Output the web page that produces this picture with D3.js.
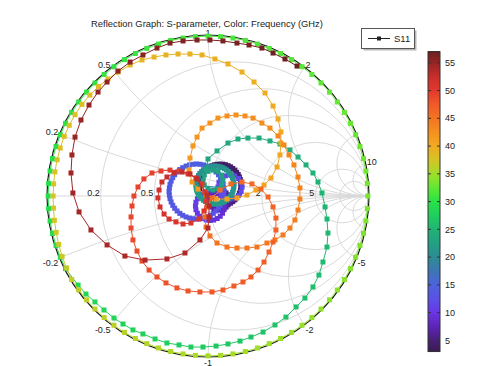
<!DOCTYPE html>
<html><head><meta charset="utf-8">
<script src="https://cdn.jsdelivr.net/npm/d3@7"></script>
<style>body{margin:0;background:#fff}svg{display:block}text{font-family:"Liberation Sans",Arial,sans-serif;fill:#222}</style>
</head><body><svg id="c" width="479" height="366"></svg>
<script>
// ---------- DATA: S11 [frequency GHz, Re, Im] ----------
const band03to05 = [[3.0,0.010,-0.045],[3.05,-0.004,-0.035],[3.1,-0.017,-0.024],[3.15,-0.028,-0.011],[3.2,-0.038,0.003],[3.25,-0.045,0.018],[3.3,-0.051,0.034],[3.35,-0.054,0.051],[3.4,-0.055,0.068],[3.45,-0.054,0.085],[3.5,-0.051,0.102],[3.55,-0.045,0.118],[3.6,-0.038,0.133],[3.65,-0.028,0.147],[3.7,-0.017,0.160],[3.75,-0.004,0.171],[3.8,0.010,0.181],[3.85,0.025,0.188],[3.9,0.041,0.194],[3.95,0.058,0.197],[4.0,0.075,0.198],[4.05,0.092,0.197],[4.1,0.109,0.194],[4.15,0.125,0.188],[4.2,0.140,0.181],[4.25,0.154,0.171],[4.3,0.167,0.160],[4.35,0.178,0.147],[4.4,0.188,0.133],[4.45,0.195,0.118],[4.5,0.201,0.102],[4.55,0.204,0.085],[4.6,0.205,0.068],[4.65,0.204,0.051],[4.7,0.201,0.034],[4.75,0.195,0.018],[4.8,0.188,0.003],[4.85,0.178,-0.011],[4.9,0.167,-0.024],[4.95,0.154,-0.035],[5.0,0.140,-0.045],[5.05,0.125,-0.052],[5.1,0.109,-0.058],[5.15,0.092,-0.061],[5.2,0.075,-0.062],[5.25,0.058,-0.061],[5.3,0.041,-0.058],[5.35,0.025,-0.052]];
const band05to07 = [[5.4,0.068,0.037],[5.5,0.084,0.035],[5.6,0.099,0.029],[5.7,0.112,0.019],[5.8,0.122,0.006],[5.9,0.128,-0.009],[6.0,0.130,-0.025],[6.1,0.128,-0.041],[6.2,0.122,-0.056],[6.3,0.112,-0.069],[6.4,0.099,-0.079],[6.5,0.084,-0.085],[6.6,0.068,-0.087],[6.7,0.052,-0.085],[6.8,0.037,-0.079],[6.9,0.024,-0.069],[7.0,0.014,-0.056],[7.1,0.008,-0.041],[7.2,0.006,-0.025],[7.3,0.008,-0.009],[7.4,0.014,0.006],[7.5,0.024,0.019],[7.6,0.037,0.029],[7.7,0.052,0.035]];
const band08to11 = [[7.8,0.012,0.028],[7.9,0.035,0.025],[8.1,0.057,0.016],[8.2,0.076,0.002],[8.4,0.090,-0.017],[8.5,0.099,-0.039],[8.7,0.102,-0.062],[8.8,0.099,-0.085],[9.0,0.090,-0.107],[9.1,0.076,-0.126],[9.3,0.057,-0.140],[9.4,0.035,-0.149],[9.6,0.012,-0.152],[9.7,-0.011,-0.149],[9.9,-0.033,-0.140],[10.0,-0.052,-0.126],[10.2,-0.066,-0.107],[10.3,-0.075,-0.085],[10.5,-0.078,-0.062],[10.6,-0.075,-0.039],[10.8,-0.066,-0.017],[10.9,-0.052,0.002],[11.1,-0.033,0.016],[11.2,-0.011,0.025]];
const band11to12 = [[11.3,0.062,0.056],[11.35,0.068,0.085],[11.4,0.084,0.109],[11.45,0.108,0.125],[11.5,0.137,0.131],[11.55,0.166,0.125],[11.6,0.190,0.109],[11.65,0.206,0.085],[11.7,0.212,0.056],[11.75,0.206,0.027],[11.8,0.190,0.003],[11.85,0.166,-0.013],[11.9,0.137,-0.019],[11.95,0.108,-0.013],[12.0,0.084,0.003],[12.05,0.068,0.027]];
const band12to15 = [[12.10,0.100,0.028],[12.17,0.098,0.006],[12.24,0.094,-0.016],[12.31,0.087,-0.037],[12.38,0.077,-0.058],[12.45,0.065,-0.076],[12.52,0.050,-0.093],[12.59,0.033,-0.108],[12.66,0.015,-0.120],[12.73,-0.006,-0.130],[12.80,-0.027,-0.137],[12.87,-0.049,-0.141],[12.94,-0.071,-0.143],[13.01,-0.093,-0.141],[13.08,-0.115,-0.137],[13.15,-0.136,-0.130],[13.22,-0.157,-0.120],[13.29,-0.175,-0.108],[13.36,-0.192,-0.093],[13.43,-0.207,-0.076],[13.50,-0.219,-0.058],[13.57,-0.229,-0.037],[13.64,-0.236,-0.016],[13.71,-0.240,0.006],[13.78,-0.242,0.028],[13.85,-0.240,0.050],[13.92,-0.236,0.072],[13.99,-0.229,0.093],[14.06,-0.219,0.114],[14.13,-0.207,0.132],[14.20,-0.192,0.149],[14.27,-0.175,0.164],[14.34,-0.157,0.176],[14.41,-0.136,0.186],[14.48,-0.115,0.193],[14.55,-0.093,0.197],[14.62,-0.071,0.199],[14.69,-0.049,0.197],[14.76,-0.027,0.193],[14.83,-0.006,0.186],[14.90,0.015,0.176],[14.97,0.033,0.164],[15.04,0.050,0.149],[15.11,0.065,0.132],[15.18,0.077,0.114],[15.25,0.087,0.093],[15.32,0.094,0.072],[15.39,0.098,0.050]];
const band20to22 = [[20.00,-0.075,0.068],[20.05,-0.074,0.083],[20.10,-0.071,0.099],[20.15,-0.066,0.113],[20.20,-0.059,0.127],[20.25,-0.051,0.140],[20.30,-0.040,0.151],[20.35,-0.029,0.162],[20.40,-0.016,0.170],[20.45,-0.002,0.177],[20.50,0.012,0.182],[20.55,0.028,0.185],[20.60,0.043,0.186],[20.65,0.058,0.185],[20.70,0.074,0.182],[20.75,0.088,0.177],[20.80,0.102,0.170],[20.85,0.115,0.162],[20.90,0.126,0.151],[20.95,0.137,0.140],[21.00,0.145,0.127],[21.05,0.152,0.113],[21.10,0.157,0.099],[21.15,0.160,0.083],[21.20,0.161,0.068],[21.25,0.160,0.053],[21.30,0.157,0.037],[21.35,0.152,0.023],[21.40,0.145,0.009],[21.45,0.137,-0.004],[21.50,0.126,-0.015],[21.55,0.115,-0.026],[21.60,0.102,-0.034],[21.65,0.088,-0.041],[21.70,0.074,-0.046],[21.75,0.058,-0.049],[21.80,0.043,-0.050],[21.85,0.028,-0.049],[21.90,0.012,-0.046],[21.95,-0.002,-0.041],[22.00,-0.016,-0.034],[22.05,-0.029,-0.026],[22.10,-0.040,-0.015],[22.15,-0.051,-0.004],[22.20,-0.059,0.009],[22.25,-0.066,0.023],[22.30,-0.071,0.037],[22.35,-0.074,0.053]];
const band22to23 = [[22.4,-0.031,0.099],[22.45,-0.023,0.130],[22.5,0.000,0.153],[22.55,0.031,0.161],[22.6,0.062,0.153],[22.65,0.085,0.130],[22.7,0.093,0.099],[22.75,0.085,0.068],[22.8,0.062,0.045],[22.85,0.031,0.037],[22.9,0.000,0.045],[22.95,-0.023,0.068]];
const band23to28 = [[23.0,-0.012,0.161],[23.13,0.000,0.230],[23.27,0.056,0.280],[23.4,0.124,0.329],[23.54,0.186,0.354],[23.67,0.248,0.360],[23.81,0.317,0.360],[23.94,0.385,0.342],[24.08,0.447,0.323],[24.21,0.509,0.286],[24.35,0.559,0.242],[24.48,0.609,0.193],[24.62,0.652,0.143],[24.75,0.683,0.087],[24.89,0.708,0.019],[25.02,0.727,-0.068],[25.16,0.739,-0.143],[25.29,0.745,-0.230],[25.43,0.739,-0.317],[25.56,0.714,-0.410],[25.7,0.689,-0.491],[25.83,0.652,-0.565],[25.97,0.602,-0.634],[26.1,0.547,-0.689],[26.24,0.484,-0.752],[26.37,0.416,-0.801],[26.51,0.342,-0.845],[26.64,0.267,-0.876],[26.78,0.199,-0.901],[26.91,0.124,-0.919],[27.05,0.050,-0.932],[27.18,-0.031,-0.938],[27.32,-0.106,-0.938],[27.45,-0.180,-0.925],[27.59,-0.255,-0.913],[27.72,-0.329,-0.888],[27.86,-0.404,-0.857],[27.99,-0.466,-0.832],[28.13,-0.528,-0.795],[28.26,-0.584,-0.758],[28.4,-0.646,-0.708],[28.5,-0.702,-0.658],[28.6,-0.758,-0.609],[28.7,-0.807,-0.553]];
const band29to36 = [[28.8,-0.885,-0.451],[28.9,-0.917,-0.380],[29.0,-0.944,-0.307],[29.1,-0.966,-0.232],[29.2,-0.981,-0.155],[29.3,-0.990,-0.078],[29.4,-0.993,0.000],[29.5,-0.990,0.078],[29.6,-0.981,0.155],[29.7,-0.966,0.232],[29.8,-0.944,0.307],[29.9,-0.917,0.380],[30.0,-0.885,0.451],[30.1,-0.847,0.519],[30.2,-0.803,0.584],[30.3,-0.755,0.645],[30.4,-0.702,0.702],[30.5,-0.645,0.755],[30.6,-0.584,0.803],[30.7,-0.519,0.847],[30.8,-0.451,0.885],[30.9,-0.380,0.917],[31.0,-0.307,0.944],[31.1,-0.232,0.966],[31.2,-0.155,0.981],[31.3,-0.078,0.990],[31.4,0.000,0.993],[31.5,0.078,0.990],[31.6,0.155,0.981],[31.7,0.232,0.966],[31.8,0.307,0.944],[31.9,0.380,0.917],[32.0,0.451,0.885],[32.1,0.519,0.847],[32.2,0.584,0.803],[32.3,0.645,0.755],[32.4,0.702,0.702],[32.5,0.755,0.645],[32.6,0.803,0.584],[32.7,0.847,0.519],[32.8,0.885,0.451],[32.9,0.917,0.380],[33.0,0.944,0.307],[33.1,0.966,0.232],[33.2,0.981,0.155],[33.3,0.990,0.078],[33.4,0.993,0.000],[33.5,0.990,-0.078],[33.6,0.981,-0.155],[33.7,0.966,-0.232],[33.8,0.944,-0.307],[33.9,0.917,-0.380],[34.0,0.885,-0.451],[34.1,0.847,-0.519],[34.2,0.803,-0.584],[34.3,0.755,-0.645],[34.4,0.702,-0.702],[34.5,0.645,-0.755],[34.6,0.584,-0.803],[34.7,0.519,-0.847],[34.8,0.451,-0.885],[34.9,0.380,-0.917],[35.0,0.307,-0.944],[35.1,0.232,-0.966],[35.2,0.155,-0.981],[35.3,0.078,-0.990],[35.4,0.000,-0.993],[35.5,-0.078,-0.990],[35.6,-0.155,-0.981],[35.7,-0.232,-0.966],[35.8,-0.307,-0.944],[35.9,-0.380,-0.917],[36.0,-0.451,-0.885],[36.1,-0.519,-0.847],[36.2,-0.584,-0.803],[36.3,-0.645,-0.755],[36.4,-0.702,-0.702],[36.5,-0.755,-0.645],[36.6,-0.803,-0.584],[36.7,-0.847,-0.519]];
const band37to38 = [[36.8,-0.878,-0.447],[36.9,-0.906,-0.375],[37.0,-0.927,-0.301],[37.1,-0.943,-0.226],[37.2,-0.954,-0.151],[37.3,-0.960,-0.075],[37.4,-0.962,0.000],[37.5,-0.959,0.075],[37.6,-0.951,0.150],[37.7,-0.937,0.225],[37.8,-0.918,0.298],[37.9,-0.893,0.370],[38.0,-0.862,0.439],[38.1,-0.826,0.505],[38.2,-0.783,0.569],[38.3,-0.734,0.627],[38.4,-0.680,0.680],[38.5,-0.621,0.727],[38.6,-0.559,0.769]];
const band39to41 = [[38.7,-0.484,0.814],[38.8,-0.410,0.845],[38.9,-0.335,0.863],[39.0,-0.261,0.876],[39.1,-0.186,0.882],[39.2,-0.112,0.882],[39.3,-0.037,0.876],[39.4,0.043,0.851],[39.5,0.124,0.820],[39.6,0.211,0.770],[39.7,0.286,0.708],[39.8,0.354,0.640],[39.9,0.404,0.559],[40.0,0.435,0.478],[40.1,0.453,0.398],[40.2,0.453,0.329],[40.3,0.447,0.255],[40.4,0.429,0.180],[40.5,0.391,0.112],[40.6,0.348,0.068],[40.7,0.298,0.037],[40.8,0.242,0.006],[40.9,0.180,-0.012],[41.0,0.118,-0.019],[41.1,0.050,-0.019],[41.2,-0.012,0.006],[41.3,-0.062,0.043],[41.4,-0.099,0.087]];
const band42to45 = [[41.5,-0.118,0.161],[41.6,-0.112,0.236],[41.8,-0.093,0.311],[41.9,-0.068,0.366],[42.0,-0.037,0.422],[42.1,0.012,0.453],[42.2,0.062,0.484],[42.3,0.118,0.497],[42.5,0.174,0.503],[42.6,0.230,0.497],[42.7,0.280,0.484],[42.8,0.335,0.453],[42.9,0.385,0.422],[43.1,0.435,0.373],[43.2,0.472,0.317],[43.3,0.503,0.255],[43.4,0.534,0.193],[43.5,0.559,0.118],[43.7,0.571,0.050],[43.8,0.571,-0.019],[43.9,0.559,-0.087],[44.0,0.540,-0.149],[44.1,0.509,-0.199],[44.3,0.466,-0.242],[44.4,0.416,-0.273],[44.5,0.366,-0.292],[44.6,0.304,-0.317],[44.7,0.242,-0.323],[44.9,0.180,-0.323],[45.0,0.118,-0.317],[45.1,0.056,-0.292],[45.2,0.012,-0.248],[45.3,-0.012,-0.193],[45.5,-0.019,-0.130],[45.6,-0.006,-0.068],[45.7,0.025,-0.012]];
const band46to50 = [[45.8,0.075,0.037],[45.9,0.143,0.075],[46.0,0.211,0.087],[46.1,0.273,0.075],[46.2,0.329,0.043],[46.4,0.373,-0.006],[46.5,0.404,-0.068],[46.6,0.422,-0.137],[46.7,0.422,-0.211],[46.8,0.404,-0.286],[46.9,0.379,-0.348],[47.0,0.348,-0.410],[47.1,0.311,-0.460],[47.2,0.267,-0.503],[47.3,0.217,-0.534],[47.4,0.161,-0.559],[47.5,0.093,-0.584],[47.7,0.025,-0.596],[47.8,-0.050,-0.596],[47.9,-0.124,-0.590],[48.0,-0.193,-0.571],[48.1,-0.261,-0.540],[48.2,-0.317,-0.503],[48.3,-0.366,-0.460],[48.4,-0.410,-0.404],[48.5,-0.441,-0.342],[48.6,-0.466,-0.273],[48.7,-0.478,-0.199],[48.8,-0.478,-0.130],[49.0,-0.472,-0.062],[49.1,-0.460,0.000],[49.2,-0.435,0.056],[49.3,-0.398,0.106],[49.4,-0.348,0.143],[49.5,-0.292,0.155],[49.6,-0.236,0.161],[49.7,-0.180,0.155],[49.8,-0.124,0.137],[49.9,-0.075,0.112],[50.0,-0.037,0.075]];
const band50to53 = [[50.2,-0.019,0.025],[50.3,-0.012,-0.031],[50.5,-0.025,-0.093],[50.7,-0.056,-0.143],[50.8,-0.106,-0.168],[51.0,-0.155,-0.174],[51.1,-0.199,-0.161],[51.3,-0.242,-0.143],[51.5,-0.273,-0.112],[51.6,-0.298,-0.068],[51.8,-0.311,-0.012],[51.9,-0.304,0.037],[52.1,-0.286,0.087],[52.3,-0.255,0.118],[52.4,-0.211,0.143],[52.6,-0.161,0.149],[52.7,-0.112,0.137],[52.9,-0.068,0.106]];
const band53to57 = [[53.0,-0.006,0.006],[53.1,0.006,-0.062],[53.2,0.006,-0.130],[53.4,0.000,-0.199],[53.5,-0.050,-0.273],[53.6,-0.143,-0.354],[53.7,-0.255,-0.391],[53.8,-0.391,-0.398],[53.9,-0.516,-0.373],[54.1,-0.627,-0.304],[54.2,-0.727,-0.211],[54.3,-0.801,-0.099],[54.4,-0.839,0.019],[54.5,-0.851,0.143],[54.6,-0.845,0.255],[54.8,-0.826,0.366],[54.9,-0.789,0.472],[55.0,-0.739,0.565],[55.1,-0.683,0.646],[55.2,-0.627,0.708],[55.4,-0.559,0.776],[55.5,-0.484,0.832],[55.6,-0.404,0.876],[55.7,-0.317,0.919],[55.8,-0.236,0.950],[55.9,-0.155,0.963],[56.1,-0.068,0.969],[56.2,0.012,0.969],[56.3,0.093,0.963],[56.4,0.180,0.950],[56.5,0.255,0.938],[56.6,0.335,0.919],[56.8,0.404,0.888],[56.9,0.478,0.851],[57.0,0.553,0.807]];

// grid values and tick labels
const resistanceGrid = [0.2, 0.5, 1, 2, 5, 10];
const reactanceGrid = [0.2, 0.5, 1, 2, 5, 10];
const resistanceLabels = [0.2, 0.5, 2, 5];
const reactanceLabels = [0.2, 0.5, 1, 2, 10, -0.2, -0.5, -1, -2, -5];
const colorbarTicks = [5, 10, 15, 20, 25, 30, 35, 40, 45, 50, 55];
const colorbarRange = [3, 57];
// colour table (GHz -> colour)
const cmapValues = [3,5,7.5,10,12.5,15,17.5,20,22.5,25,27.5,30,32.5,35,37.5,40,42.5,45,47.5,50,52,54.5,57];
const cmapColors = ["#3a1c52","#482078","#5c24b8","#6a36e6","#5a52e6","#4c62dc","#3c76b4","#2c8c94","#22a084","#20b474","#1fce5e","#28e246","#60e834","#a0de28","#d6c426","#f0aa20","#f5901f","#f27422","#f05a28","#e2382e","#d0302c","#a02626","#6b1f1f"];
const titleText = "Reflection Graph: S-parameter, Color: Frequency (GHz)";
const legendText = "S11";

// ---------- DRAWING ----------
const s11 = [].concat(band03to05, band05to07, band08to11, band11to12, band12to15, band20to22, band22to23,
  band23to28, band29to36, band37to38, band39to41, band42to45, band46to50, band50to53, band53to57);

const W = 479, H = 366, CX = 208, CY = 196, R = 161;
const svg = d3.select("#c");
svg.append("rect").attr("width", W).attr("height", H).attr("fill", "#fff");

const x = d3.scaleLinear().domain([-1, 1]).range([CX - R, CX + R]);
const y = d3.scaleLinear().domain([-1, 1]).range([CY + R, CY - R]);
const len = v => x(v) - x(0);
const color = d3.scaleLinear().domain(cmapValues).range(cmapColors).clamp(true);

svg.append("defs").append("clipPath").attr("id", "uc")
  .append("circle").attr("cx", x(0)).attr("cy", y(0)).attr("r", len(1));

const grid = svg.append("g").attr("clip-path", "url(#uc)")
  .attr("fill", "none").attr("stroke", "#d9d9d9").attr("stroke-width", 1);
grid.append("line").attr("x1", x(-1)).attr("x2", x(1)).attr("y1", y(0)).attr("y2", y(0));
resistanceGrid.forEach(r => grid.append("circle")
  .attr("cx", x(r / (1 + r))).attr("cy", y(0)).attr("r", len(1 / (1 + r))));
reactanceGrid.forEach(v => [v, -v].forEach(xx => grid.append("circle")
  .attr("cx", x(1)).attr("cy", y(1 / xx)).attr("r", len(1 / Math.abs(xx)))));

svg.append("circle").attr("cx", x(0)).attr("cy", y(0)).attr("r", len(1))
  .attr("fill", "none").attr("stroke", "#1a1a1a").attr("stroke-width", 1.2);

// labels
const lab = svg.append("g").attr("font-size", 9);
resistanceLabels.forEach(r => lab.append("text")
  .attr("x", x((r - 1) / (r + 1)) - 1).attr("y", y(0)).attr("text-anchor", "end").text(r));
reactanceLabels.forEach(v => {
  const re = (v * v - 1) / (1 + v * v), im = 2 * v / (1 + v * v);
  const px = x(re), py = y(im);
  const anchor = Math.abs(re) < 0.05 ? "middle" : (re < 0 ? "end" : "start");
  lab.append("text")
    .attr("x", anchor === "end" ? px - 1 : anchor === "start" ? px + 1 : px)
    .attr("y", im > 0 ? py + 0.5 : py + 8.5)
    .attr("text-anchor", anchor).text(v);
});

// trace
const tr = svg.append("g");
s11.forEach((d, i) => {
  if (i > 0) {
    const p = s11[i - 1];
    tr.append("line").attr("x1", x(p[1])).attr("y1", y(p[2])).attr("x2", x(d[1])).attr("y2", y(d[2]))
      .attr("stroke", color((p[0] + d[0]) / 2)).attr("stroke-width", 1);
  }
  tr.append("rect").attr("x", x(d[1]) - 2.5).attr("y", y(d[2]) - 2.5)
    .attr("width", 5).attr("height", 5).attr("fill", color(d[0]));
});

// title
const title = svg.append("text").attr("x", 207).attr("y", 26.5).attr("text-anchor", "middle")
  .attr("font-size", 9).text(titleText);
const tw = title.node().getComputedTextLength();
if (tw > 0) title.attr("font-size", 9 * 232 / tw);

// legend
svg.append("rect").attr("x", 363.5).attr("y", 30.5).attr("width", 53).attr("height", 20).attr("fill", "#b8b8b8");
svg.append("rect").attr("x", 361.5).attr("y", 28.5).attr("width", 53).attr("height", 20)
  .attr("fill", "#fff").attr("stroke", "#555").attr("stroke-width", 1);
svg.append("line").attr("x1", 368).attr("x2", 390).attr("y1", 38.5).attr("y2", 38.5).attr("stroke", "#222");
svg.append("rect").attr("x", 377).attr("y", 36.5).attr("width", 4).attr("height", 4).attr("fill", "#222");
svg.append("text").attr("x", 394).attr("y", 42).attr("font-size", 9.5).text(legendText);

// colorbar
const cb = d3.scaleLinear().domain(colorbarRange).range([351.5, 51.7]);
const cbg = svg.append("g");
for (let py = Math.floor(cb(colorbarRange[1])); py < cb(colorbarRange[0]); py++) {
  cbg.append("rect").attr("x", 428).attr("y", py).attr("width", 12).attr("height", 1.05)
    .attr("fill", color(cb.invert(py + 0.5)));
}
cbg.append("rect").attr("x", 428).attr("y", cb(colorbarRange[1])).attr("width", 12)
  .attr("height", cb(colorbarRange[0]) - cb(colorbarRange[1]))
  .attr("fill", "none").attr("stroke", "#333").attr("stroke-width", 1);
colorbarTicks.forEach(t => {
  cbg.append("line").attr("x1", 428).attr("x2", 431).attr("y1", cb(t)).attr("y2", cb(t)).attr("stroke", "#333");
  cbg.append("line").attr("x1", 437).attr("x2", 440).attr("y1", cb(t)).attr("y2", cb(t)).attr("stroke", "#333");
  cbg.append("text").attr("x", 445).attr("y", cb(t)).attr("dy", "0.35em").attr("font-size", 9).text(t);
});
</script></body></html>
